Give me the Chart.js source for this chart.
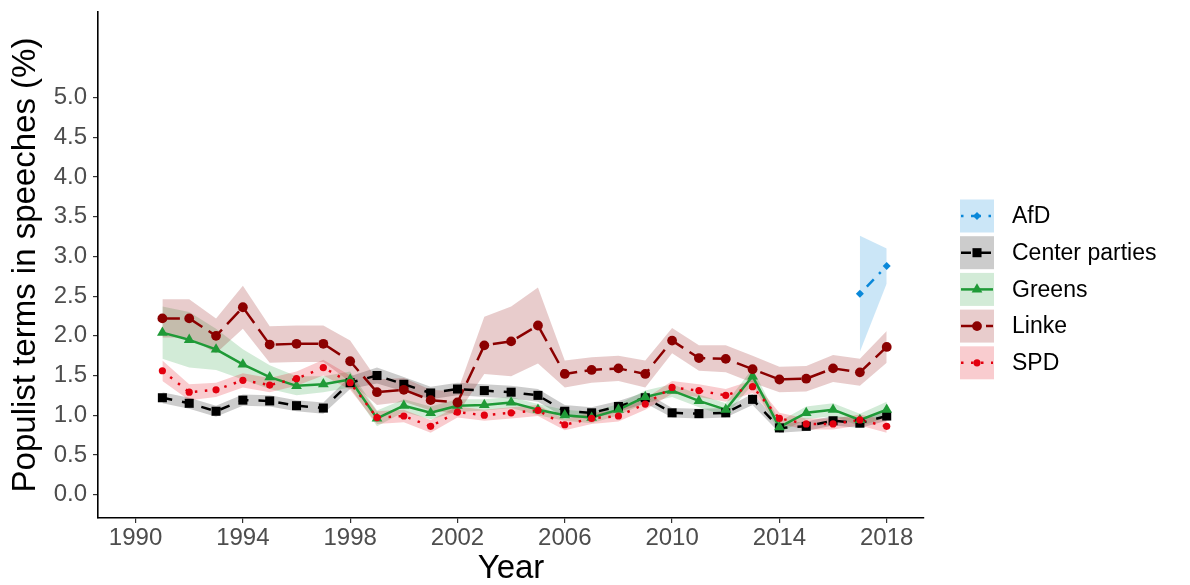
<!DOCTYPE html>
<html>
<head>
<meta charset="utf-8">
<script src="https://cdn.jsdelivr.net/npm/chart.js@4.4.0/dist/chart.umd.min.js"></script>
<style>
  html, body { margin: 0; padding: 0; background: #ffffff; }
  #wrap { width: 1190px; height: 585px; position: relative; }
</style>
</head>
<body>
<div id="wrap"><canvas id="c" width="1190" height="585"></canvas></div>
<script>
// Yearly share of populist terms in parliamentary speeches, by party (mean and standard error)
const years = [1991, 1992, 1993, 1994, 1995, 1996, 1997, 1998, 1999, 2000, 2001, 2002, 2003, 2004,
               2005, 2006, 2007, 2008, 2009, 2010, 2011, 2012, 2013, 2014, 2015, 2016, 2017, 2018];
const afdYears = [2017, 2018];

const afdShare = [2.53, 2.88];
const afdSe    = [0.73, 0.22];

const centerShare = [1.22, 1.15, 1.05, 1.19, 1.18, 1.12, 1.09, 1.41, 1.50, 1.39, 1.28, 1.33, 1.31, 1.29,
                     1.25, 1.05, 1.03, 1.11, 1.22, 1.03, 1.02, 1.03, 1.20, 0.84, 0.86, 0.93, 0.90, 0.99];
const centerSe    = [0.07, 0.07, 0.07, 0.07, 0.07, 0.07, 0.07, 0.08, 0.10, 0.09, 0.08, 0.08, 0.08, 0.08,
                     0.08, 0.08, 0.07, 0.07, 0.07, 0.06, 0.06, 0.06, 0.07, 0.06, 0.06, 0.06, 0.06, 0.06];

const greensShare = [2.04, 1.95, 1.83, 1.64, 1.48, 1.37, 1.39, 1.45, 0.96, 1.12, 1.03, 1.12, 1.13, 1.16,
                     1.07, 1.00, 0.97, 1.07, 1.23, 1.31, 1.18, 1.07, 1.49, 0.85, 1.03, 1.07, 0.94, 1.07];
const greensSe    = [0.33, 0.35, 0.26, 0.19, 0.15, 0.12, 0.10, 0.10, 0.10, 0.08, 0.08, 0.08, 0.07, 0.07,
                     0.07, 0.07, 0.07, 0.07, 0.08, 0.08, 0.08, 0.08, 0.10, 0.07, 0.08, 0.08, 0.08, 0.10];

const linkeShare = [2.22, 2.22, 2.00, 2.36, 1.89, 1.90, 1.90, 1.68, 1.29, 1.32, 1.19, 1.16, 1.88, 1.93,
                    2.13, 1.52, 1.57, 1.59, 1.52, 1.94, 1.72, 1.71, 1.58, 1.45, 1.46, 1.59, 1.54, 1.86];
const linkeSe    = [0.24, 0.24, 0.22, 0.27, 0.23, 0.23, 0.23, 0.26, 0.16, 0.15, 0.13, 0.14, 0.36, 0.44,
                    0.48, 0.17, 0.16, 0.16, 0.17, 0.16, 0.16, 0.17, 0.17, 0.16, 0.16, 0.17, 0.17, 0.20];

const spdShare = [1.56, 1.29, 1.32, 1.44, 1.38, 1.46, 1.60, 1.41, 0.97, 0.99, 0.86, 1.04, 1.00, 1.03,
                  1.06, 0.88, 0.96, 0.99, 1.14, 1.35, 1.31, 1.25, 1.36, 0.96, 0.89, 0.89, 0.94, 0.86];
const spdSe    = [0.13, 0.10, 0.09, 0.09, 0.09, 0.09, 0.10, 0.09, 0.08, 0.08, 0.08, 0.07, 0.07, 0.07,
                  0.07, 0.07, 0.07, 0.07, 0.07, 0.08, 0.08, 0.08, 0.08, 0.07, 0.07, 0.07, 0.07, 0.08];

const partyNames = ['AfD', 'Center parties', 'Greens', 'Linke', 'SPD'];
const yTicks = [0.0, 0.5, 1.0, 1.5, 2.0, 2.5, 3.0, 3.5, 4.0, 4.5, 5.0];
const xTicks = [1990, 1994, 1998, 2002, 2006, 2010, 2014, 2018];

const FONT = '"Liberation Sans", Arial, Helvetica, sans-serif';
const LW = 2.5;

const series = [
  { xs: afdYears, ys: afdShare,    se: afdSe },
  { xs: years,    ys: centerShare, se: centerSe },
  { xs: years,    ys: greensShare, se: greensSe },
  { xs: years,    ys: linkeShare,  se: linkeSe },
  { xs: years,    ys: spdShare,    se: spdSe }
];

const styles = [
  { line: '#0A88D9', band: 'rgba(10,136,217,0.21)', dash: [LW, 3 * LW, 4 * LW, 3 * LW], point: 'rectRot',  r: 4.0 },
  { line: '#000000', band: 'rgba(0,0,0,0.20)',       dash: [4 * LW, 4 * LW],             point: 'rect',     r: 6.4 },
  { line: '#1F9A37', band: 'rgba(31,154,55,0.20)',   dash: [],                           point: 'triangle', r: 6.2 },
  { line: '#8B0000', band: 'rgba(139,0,0,0.20)',     dash: [7 * LW, 3 * LW],             point: 'circle',   r: 4.9 },
  { line: '#E3000F', band: 'rgba(227,0,15,0.20)',    dash: [LW, 3 * LW],                 point: 'circle',   r: 3.6 }
];

const datasets = [];

// Ribbons: mean +/- standard error, drawn beneath every line
series.forEach((s, i) => {
  const st = styles[i];
  const lowerIndex = datasets.length;
  datasets.push({
    label: partyNames[i] + ' lower',
    data: s.xs.map((x, k) => ({ x: x, y: s.ys[k] - s.se[k] })),
    borderWidth: 0, pointRadius: 0, fill: false, order: 20 - i
  });
  datasets.push({
    label: partyNames[i] + ' upper',
    data: s.xs.map((x, k) => ({ x: x, y: s.ys[k] + s.se[k] })),
    borderWidth: 0, pointRadius: 0, backgroundColor: st.band,
    fill: { target: lowerIndex }, order: 20 - i
  });
});

// Lines
series.forEach((s, i) => {
  const st = styles[i];
  datasets.push({
    label: partyNames[i],
    data: s.xs.map((x, k) => ({ x: x, y: s.ys[k] })),
    borderColor: st.line, borderWidth: LW, borderDash: st.dash, borderCapStyle: 'butt',
    borderJoinStyle: 'round', pointRadius: 0, fill: false, tension: 0, order: 10 - i
  });
});

// Markers on top of all lines
series.forEach((s, i) => {
  const st = styles[i];
  datasets.push({
    label: partyNames[i] + ' points',
    data: s.xs.map((x, k) => ({ x: x, y: s.ys[k] })),
    showLine: false, pointStyle: st.point, pointRadius: st.r,
    pointBackgroundColor: st.line, pointBorderColor: st.line, pointBorderWidth: 0,
    order: 5 - i
  });
});

// Legend keys: ribbon fill, line style and marker, followed by the party name
const keyLegend = {
  id: 'keyLegend',
  afterDraw(chart) {
    const ctx = chart.ctx;
    const x0 = 960, w = 34, h = 33, step = 36.7, top = 199.5;
    partyNames.forEach((name, i) => {
      const st = styles[i];
      const y = top + i * step, cy = y + h / 2, cx = x0 + w / 2;
      ctx.save();
      ctx.fillStyle = '#ffffff';
      ctx.fillRect(x0, y, w, h);
      ctx.fillStyle = st.band;
      ctx.fillRect(x0, y, w, h);
      ctx.strokeStyle = st.line;
      ctx.lineWidth = LW;
      ctx.lineCap = 'butt';
      ctx.setLineDash(st.dash);
      ctx.beginPath();
      ctx.moveTo(x0 + 1, cy);
      ctx.lineTo(x0 + w - 1, cy);
      ctx.stroke();
      ctx.setLineDash([]);
      ctx.fillStyle = st.line;
      ctx.strokeStyle = st.line;
      Chart.helpers.drawPoint(ctx, { pointStyle: st.point, radius: st.r, rotation: 0, borderWidth: 0 }, cx, cy);
      ctx.fillStyle = '#000000';
      ctx.font = '23px ' + FONT;
      ctx.textBaseline = 'middle';
      ctx.textAlign = 'left';
      ctx.fillText(name, 1012, cy + 1);
      ctx.restore();
    });
  }
};

new Chart(document.getElementById('c'), {
  type: 'line',
  data: { datasets: datasets },
  options: {
    responsive: false,
    animation: false,
    devicePixelRatio: 1,
    events: [],
    layout: { padding: { top: 12, right: 266, bottom: 0, left: 0 } },
    plugins: {
      legend: { display: false },
      tooltip: { enabled: false },
      filler: { propagate: false }
    },
    scales: {
      x: {
        type: 'linear',
        min: 1988.6,
        max: 2019.39,
        afterBuildTicks: (scale) => { scale.ticks = xTicks.map(v => ({ value: v })); },
        afterFit: (scale) => { scale.height = 67; scale.paddingLeft = 0; scale.paddingRight = 0; },
        ticks: {
          color: '#4D4D4D', font: { size: 24, family: FONT }, padding: 1,
          maxRotation: 0, autoSkip: false, callback: (v) => String(v)
        },
        grid: { display: true, drawOnChartArea: false, drawTicks: true, tickLength: 5, color: '#333333', lineWidth: 1.2 },
        border: { display: true, color: '#000000', width: 1.6 },
        title: { display: true, text: 'Year', color: '#000000', font: { size: 33, family: FONT, lineHeight: 1 }, padding: 0 }
      },
      y: {
        type: 'linear',
        min: -0.295,
        max: 6.08,
        afterBuildTicks: (scale) => { scale.ticks = yTicks.map(v => ({ value: v })); },
        afterFit: (scale) => { scale.width = 98; scale.paddingTop = 0; scale.paddingBottom = 0; },
        ticks: {
          color: '#4D4D4D', font: { size: 24, family: FONT }, padding: 6,
          autoSkip: false, callback: (v) => Number(v).toFixed(1)
        },
        grid: { display: true, drawOnChartArea: false, drawTicks: true, tickLength: 5, color: '#333333', lineWidth: 1.2 },
        border: { display: true, color: '#000000', width: 1.6 },
        title: { display: true, text: 'Populist terms in speeches (%)', color: '#000000', font: { size: 33, family: FONT, lineHeight: 1 }, padding: { top: 9, bottom: 0 } }
      }
    }
  },
  plugins: [keyLegend]
});
</script>
</body>
</html>
